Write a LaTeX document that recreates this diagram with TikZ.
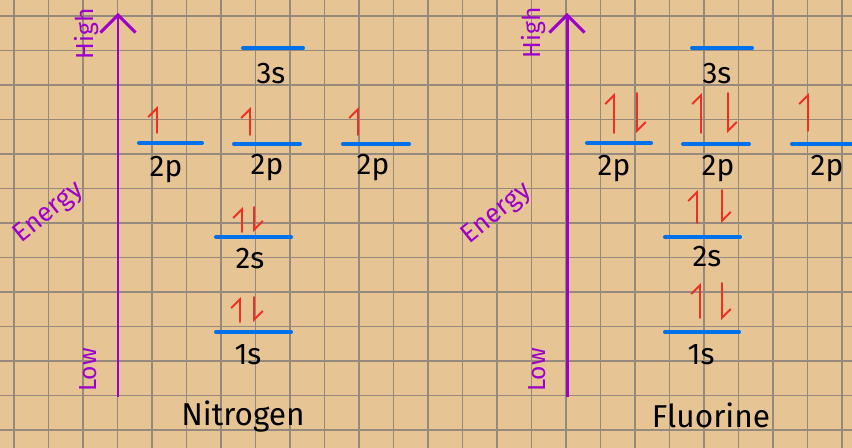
\documentclass[tikz,border=0pt]{standalone}
\usepackage{fontspec}
\setmainfont{Fira Sans}
\usepackage{xcolor}
\usetikzlibrary{arrows.meta,positioning}
\definecolor{paperbg}{RGB}{231,196,147}
\definecolor{gridgray}{RGB}{150,138,125}
\definecolor{axispurple}{RGB}{155,0,205}
\definecolor{levelblue}{RGB}{0,112,235}
\definecolor{spinred}{RGB}{238,48,36}

\begin{document}
\begin{tikzpicture}[x=0.02cm,y=-0.02cm,
    gridline/.style={draw=gridgray,line width=0.85pt},
    axisline/.style={draw=axispurple,line width=1.7pt,-{Straight Barb[length=10pt,width=20pt,line width=1.7pt]}},
    axislabel/.style={text=axispurple,font=\fontsize{14}{16}\selectfont},
    orbline/.style={draw=levelblue,line width=2.3pt,line cap=round},
    orblabel/.style={font=\fontsize{17}{19}\selectfont},
    spin/.style={draw=spinred,line width=1.1pt,line cap=round,-{Straight Barb[left,length=5pt,width=10pt,line width=1.1pt]}},
    element/.style={font=\fontsize{18}{20}\selectfont}]
    \fill[paperbg] (0,0) rectangle (852,448);
    \useasboundingbox (0,0) rectangle (852,448);
    % grid
    \foreach \gx in {0,...,24} \draw[gridline] ({14+34.5*\gx},0) -- ({14+34.5*\gx},448);
    \foreach \gy in {0,...,12} \draw[gridline] (0,{16+34.5*\gy}) -- (852,{16+34.5*\gy});
    % energy axes
    \coordinate (nbot) at (118,397); \coordinate (ntop) at (118,13);
    \coordinate (fbot) at (567,397); \coordinate (ftop) at (567,13);
    \draw[axisline] (nbot) -- (ntop);
    \draw[axisline] (fbot) -- (ftop);
    \node[axislabel,rotate=90] (nhigh) at (87,34) {High};
    \node[axislabel,rotate=39,font=\fontsize{15}{17}\selectfont] (nenergy) at (49,213) {Energy};
    \node[axislabel,rotate=90] (nlow) at (88,370) {Low};
    \node[axislabel,rotate=90] (fhigh) at (534,33) {High};
    \node[axislabel,rotate=39,font=\fontsize{15}{17}\selectfont] (fenergy) at (497,214) {Energy};
    \node[axislabel,rotate=90] (flow) at (537,370) {Low};
    % nitrogen
    \draw[orbline] (243,48) -- (303,48);   \node[orblabel] (n3s) at (271,74) {3s};
    \draw[orbline] (139,143) -- (202,143); \node[orblabel] (n2pa) at (166,170) {2p};
    \draw[orbline] (234,144) -- (300,144); \node[orblabel] (n2pb) at (267,168) {2p};
    \draw[orbline] (343,144) -- (409,144); \node[orblabel] (n2pc) at (373,168) {2p};
    \draw[orbline] (216,237) -- (291,237); \node[orblabel] (n2s) at (250,259) {2s};
    \draw[orbline] (216,332) -- (291,332); \node[orblabel] (n1s) at (248,355) {1s};
    \draw[spin] (157,133) -- (157,106);
    \draw[spin] (250,135) -- (250,107);
    \draw[spin] (358,135) -- (358,107);
    \draw[spin] (242,232) -- (242,207); \draw[spin] (254,207) -- (254,232);
    \draw[spin] (240,322) -- (240,297); \draw[spin] (254,297) -- (254,322);
    \node[element] (nitrogen) at (243,417) {Nitrogen};
    % fluorine
    \draw[orbline] (692,48) -- (752,48);   \node[orblabel] (f3s) at (717,74) {3s};
    \draw[orbline] (587,143) -- (651,143); \node[orblabel] (f2pa) at (614,169) {2p};
    \draw[orbline] (683,144) -- (749,144); \node[orblabel] (f2pb) at (718,169) {2p};
    \draw[orbline] (792,144) -- (860,144); \node[orblabel] (f2pc) at (827,169) {2p};
    \draw[orbline] (665,237) -- (740,237); \node[orblabel] (f2s) at (707,257) {2s};
    \draw[orbline] (665,332) -- (739,332); \node[orblabel] (f1s) at (701,355) {1s};
    \draw[spin] (614,133) -- (614,93);  \draw[spin] (637,93) -- (637,133);
    \draw[spin] (701,133) -- (701,93);  \draw[spin] (728,93) -- (728,133);
    \draw[spin] (808,131) -- (808,93);
    \draw[spin] (697,223) -- (697,190); \draw[spin] (722,190) -- (722,223);
    \draw[spin] (700,318) -- (700,283); \draw[spin] (722,283) -- (722,320);
    \node[element] (fluorine) at (711,415) {Fluorine};
\end{tikzpicture}
\end{document}
